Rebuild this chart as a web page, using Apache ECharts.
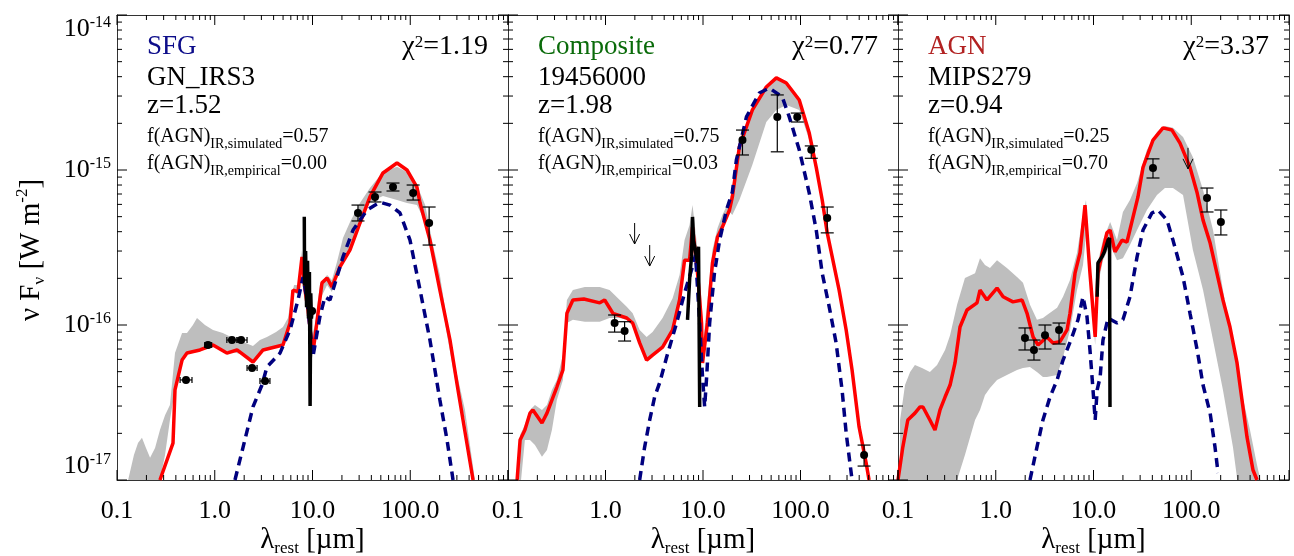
<!DOCTYPE html>
<html>
<head>
<meta charset="utf-8">
<script src="https://cdn.jsdelivr.net/npm/echarts@6/dist/echarts.min.js"></script>
<style>
  html, body { margin: 0; padding: 0; background: #ffffff; }
  #chart { width: 1294px; height: 556px; }
</style>
</head>
<body>
<div id="chart"></div>
<script>
// ---------- axis ticks and labels ----------
const xMajorTicks = [0.1, 1, 10, 100, 1000];
const xMinorTicks = [0.2, 0.3, 0.4, 0.5, 0.6, 0.7, 0.8, 0.9, 2, 3, 4, 5, 6, 7, 8, 9,
  20, 30, 40, 50, 60, 70, 80, 90, 200, 300, 400, 500, 600, 700, 800, 900];
const xTickLabels = ['0.1', '1.0', '10.0', '100.0', ''];
const yMajorTicks = [1e-17, 1e-16, 1e-15, 1e-14];
const yMinorTicks = [2e-17, 3e-17, 4e-17, 5e-17, 6e-17, 7e-17, 8e-17, 9e-17,
  2e-16, 3e-16, 4e-16, 5e-16, 6e-16, 7e-16, 8e-16, 9e-16,
  2e-15, 3e-15, 4e-15, 5e-15, 6e-15, 7e-15, 8e-15, 9e-15];
const yTickExponents = ['-17', '-16', '-15', '-14'];

// ---------- panel annotations ----------
const classNames = ['SFG', 'Composite', 'AGN'];
const classColors = ['#0d0d8a', '#0a6b0a', '#b22222'];
const sourceNames = ['GN_IRS3', '19456000', 'MIPS279'];
const redshifts = ['1.52', '1.98', '0.94'];
const fAgnSimulated = ['0.57', '0.75', '0.25'];
const fAgnEmpirical = ['0.00', '0.03', '0.70'];
const chiSquared = ['1.19', '0.77', '3.37'];

// ---------- SFG: GN_IRS3 ----------
// range of acceptable fits: [lambda (um), lower, upper]
const sfgBand = [
  [0.13, 5e-18, 1.0e-17], [0.149, 5e-18, 1.45e-17], [0.164, 5e-18, 1.73e-17], [0.18, 5e-18, 1.87e-17],
  [0.198, 5e-18, 1.61e-17], [0.218, 5e-18, 1.39e-17], [0.245, 5e-18, 1.61e-17], [0.275, 1.0e-17, 2.1e-17],
  [0.31, 1.45e-17, 2.62e-17], [0.348, 2.44e-17, 3.05e-17], [0.392, 3.81e-17, 6.59e-17], [0.463, 5.94e-17, 8.87e-17],
  [0.52, 6.59e-17, 8.87e-17], [0.598, 6.7e-17, 1.0e-16], [0.658, 6.9e-17, 1.11e-16], [0.794, 7.11e-17, 1.0e-16],
  [0.96, 7.43e-17, 9.3e-17], [1.21, 6.9e-17, 8.87e-17], [1.54, 6.7e-17, 8.24e-17], [1.95, 6.4e-17, 7.76e-17],
  [2.46, 5.77e-17, 7.33e-17], [2.9, 6.7e-17, 8.0e-17], [3.42, 7.11e-17, 8.37e-17], [4.24, 7.33e-17, 9.0e-17],
  [4.99, 7.43e-17, 9.7e-17], [5.61, 8.6e-17, 1.11e-16], [6.03, 1.08e-16, 1.45e-16], [6.47, 1.63e-16, 1.81e-16],
  [7.11, 1.56e-16, 1.81e-16], [7.81, 2.55e-16, 3.05e-16], [8.38, 1.56e-16, 2.1e-16], [9.0, 1.08e-16, 1.45e-16],
  [9.89, 6.12e-17, 8.6e-17], [10.6, 7.43e-17, 1.0e-16], [11.9, 1.45e-16, 1.81e-16], [14.1, 1.81e-16, 2.1e-16],
  [15.8, 1.63e-16, 1.95e-16], [17.8, 2.1e-16, 2.55e-16], [20.5, 2.55e-16, 3.64e-16], [24.2, 3.05e-16, 4.62e-16],
  [30.6, 4.42e-16, 6.12e-16], [38.7, 6.22e-16, 7.65e-16], [52.6, 6.8e-16, 9.7e-16], [73.2, 6.4e-16, 1.05e-15],
  [92.6, 6.12e-16, 9.7e-16], [117, 5.94e-16, 8.0e-16], [142, 4.62e-16, 5.94e-16], [171, 2.55e-16, 3.28e-16],
  [201, 1.63e-16, 2.1e-16], [243, 8.0e-17, 9.7e-17], [294, 4.1e-17, 5.13e-17], [363, 2.44e-17, 2.83e-17],
  [459, 8.6e-18, 1.0e-17], [493, 8.0e-18, 8.0e-18]
];
// best-fit total model
const sfgTotal = [
  [0.275, 1e-17], [0.374, 1.73e-17], [0.392, 3.81e-17], [0.463, 5.94e-17], [0.52, 6.59e-17], [0.706, 6.9e-17],
  [0.96, 7.43e-17], [1.33, 6.59e-17], [1.69, 6.9e-17], [2.46, 5.77e-17], [3.12, 6.9e-17], [4.99, 7.43e-17],
  [5.89, 1.03e-16], [6.31, 1.68e-16], [7.11, 1.64e-16], [7.81, 2.75e-16], [8.38, 1.68e-16], [9.0, 1.25e-16],
  [10.1, 6.59e-17], [12.5, 1.87e-16], [14.1, 2.01e-16], [15.8, 1.76e-16], [19.1, 2.37e-16], [24.2, 3.05e-16],
  [30.6, 4.55e-16], [38.7, 6.7e-16], [52.6, 9.57e-16], [73.2, 1.11e-15], [92.6, 1.0e-15], [117, 7.76e-16],
  [126, 6.12e-16], [159, 3.53e-16], [201, 1.68e-16], [255, 8.0e-17], [308, 3.81e-17], [439, 1e-17]
];
// star-forming component
const sfgHost = [
  [1.61, 1e-17], [1.95, 1.63e-17], [2.46, 2.96e-17], [3.04, 4.1e-17], [3.42, 5.36e-17], [4.65, 6.59e-17],
  [5.89, 9.29e-17], [7.11, 1.45e-16], [8.0, 2.04e-16], [8.79, 1.45e-16], [10.1, 6.22e-17], [11.9, 1.13e-16],
  [13.4, 1.52e-16], [15.1, 1.45e-16], [20.5, 2.75e-16], [26.0, 4.1e-16], [36.1, 5.52e-16], [49.1, 6.2e-16],
  [62.1, 5.94e-16], [78.5, 5.28e-16], [99.4, 3.53e-16], [126, 1.68e-16], [159, 8.0e-17], [201, 3.28e-17],
  [238, 1.81e-17], [274, 1e-17]
];
// photometry: [lambda, F, F low, F high, lambda low, lambda high]
const sfgPhot = [
  [0.508, 4.42e-17, 4.42e-17, 4.42e-17, 0.442, 0.585],
  [0.853, 7.43e-17, 7.43e-17, 7.43e-17, 0.79, 0.93],
  [1.5, 8.0e-17, 8.0e-17, 8.0e-17, 1.33, 1.69],
  [1.86, 8.0e-17, 8.0e-17, 8.0e-17, 1.69, 2.14],
  [2.41, 5.28e-17, 5.28e-17, 5.28e-17, 2.14, 2.71],
  [3.27, 4.35e-17, 4.35e-17, 4.35e-17, 2.9, 3.67],
  [9.9, 1.23e-16, 1.23e-16, 1.23e-16, 9.9, 9.9],
  [29.2, 5.28e-16, 4.69e-16, 5.94e-16, 29.2, 29.2],
  [43.6, 6.7e-16, 6.22e-16, 7.21e-16, 43.6, 43.6],
  [66.6, 7.76e-16, 7.32e-16, 8.24e-16, 66.6, 66.6],
  [107, 7.1e-16, 6.4e-16, 8.0e-16, 107, 107],
  [156, 4.55e-16, 3.28e-16, 5.77e-16, 156, 156]
];
// mid-IR spectrum
const sfgIRS = [
  [8.24, 5.0e-16], [8.3, 1.8e-16], [8.5, 3.0e-16], [8.7, 1.3e-16], [8.9, 2.6e-16], [9.1, 1.1e-16],
  [9.3, 2.2e-16], [9.45, 3.0e-17], [9.6, 1.6e-16], [9.75, 1.1e-16], [9.9, 1.23e-16]
];
const sfgLimits = [];

// ---------- Composite: 19456000 ----------
const compBand = [
  [0.124, 5.5e-18, 1.03e-17], [0.133, 8.6e-18, 1.95e-17], [0.149, 1.81e-17, 2.26e-17], [0.168, 1.81e-17, 2.83e-17],
  [0.189, 1.68e-17, 3.05e-17], [0.223, 1.41e-17, 2.83e-17], [0.251, 1.56e-17, 3.05e-17], [0.282, 2.1e-17, 3.81e-17],
  [0.317, 3.28e-17, 4.42e-17], [0.366, 4.42e-17, 6.4e-17], [0.402, 1.03e-16, 1.45e-16], [0.463, 1.08e-16, 1.68e-16],
  [0.614, 1.05e-16, 1.76e-16], [0.873, 1.05e-16, 1.76e-16], [1.1, 1.11e-16, 1.68e-16], [1.4, 1.11e-16, 1.45e-16],
  [1.65, 1.08e-16, 1.31e-16], [1.9, 1.0e-16, 1.19e-16], [2.24, 7.43e-17, 9.3e-17], [2.64, 5.94e-17, 8.37e-17],
  [3.04, 6.4e-17, 9.0e-17], [3.85, 7.21e-17, 1.11e-16], [4.88, 9.3e-17, 1.49e-16], [5.75, 1.41e-16, 2.1e-16],
  [6.47, 2.55e-16, 3.53e-16], [7.28, 2.55e-16, 4.42e-16], [7.81, 4.1e-16, 5.94e-16], [8.79, 2.1e-16, 3.05e-16],
  [9.66, 1.0e-16, 1.45e-16], [10.1, 5.69e-17, 8.0e-17], [11.1, 1.03e-16, 1.45e-16], [12.5, 2.44e-16, 3.05e-16],
  [14.1, 3.53e-16, 4.23e-16], [15.8, 4.1e-16, 5.13e-16], [18.7, 5.36e-16, 6.4e-16], [20.0, 5.13e-16, 7.43e-16],
  [23.6, 6.4e-16, 1.49e-15], [32.1, 1.08e-15, 2.51e-15], [44.6, 2.04e-15, 3.53e-15], [56.5, 2.44e-15, 3.98e-15],
  [71.5, 2.63e-15, 3.75e-15], [97.1, 2.44e-15, 2.92e-15], [123, 1.56e-15, 1.81e-15], [145, 9.7e-16, 1.08e-15],
  [167, 5.94e-16, 6.6e-16], [188, 3.75e-16, 4.1e-16], [249, 1.63e-16, 1.76e-16], [294, 8.87e-17, 9.7e-17],
  [338, 4.9e-17, 5.36e-17], [399, 2.1e-17, 2.26e-17], [471, 1.23e-17, 1.35e-17], [505, 9.6e-18, 1.03e-17]
];
const compTotal = [
  [0.124, 1e-17], [0.133, 1.81e-17], [0.149, 2.1e-17], [0.168, 2.7e-17], [0.18, 2.83e-17], [0.223, 2.33e-17],
  [0.251, 2.7e-17], [0.282, 3.28e-17], [0.317, 3.98e-17], [0.366, 5.13e-17], [0.402, 1.19e-16], [0.463, 1.45e-16],
  [0.6, 1.47e-16], [0.873, 1.39e-16], [0.98, 1.45e-16], [1.19, 1.19e-16], [1.65, 1.11e-16], [1.9, 1.03e-16],
  [2.24, 7.66e-17], [2.64, 5.94e-17], [3.04, 6.4e-17], [3.85, 7.21e-17], [4.88, 9.29e-17], [5.75, 1.45e-16],
  [6.47, 2.62e-16], [7.28, 2.62e-16], [7.81, 4.28e-16], [8.79, 2.16e-16], [9.66, 1.03e-16], [9.89, 5.69e-17],
  [11.1, 1.03e-16], [12.5, 2.51e-16], [14.1, 3.7e-16], [15.8, 4.28e-16], [18.7, 5.52e-16], [20.0, 6.7e-16],
  [23.6, 1.41e-15], [32.1, 2.44e-15], [44.6, 3.43e-15], [56.5, 3.93e-15], [71.5, 3.64e-15], [97.1, 2.83e-15],
  [123, 1.73e-15], [145, 1.04e-15], [167, 6.4e-16], [188, 3.93e-16], [249, 1.68e-16], [294, 9.29e-17],
  [338, 5.13e-17], [399, 2.2e-17], [471, 1.29e-17], [505, 1e-17]
];
const compHost = [
  [2.24, 1e-17], [2.52, 1.63e-17], [2.84, 2.44e-17], [3.19, 3.43e-17], [3.59, 4.23e-17], [4.24, 6.22e-17],
  [5.36, 1.03e-16], [6.47, 1.61e-16], [7.62, 2.26e-16], [8.38, 2.83e-16], [9.2, 1.08e-16], [9.89, 4.62e-17],
  [10.4, 2.96e-17], [10.9, 4.62e-17], [11.7, 1.03e-16], [13.1, 2.16e-16], [14.8, 3.53e-16], [17.4, 5.52e-16],
  [20.0, 7.21e-16], [22.0, 1.16e-15], [27.9, 2.2e-15], [37.8, 3.14e-15], [47.9, 3.38e-15], [65.0, 2.96e-15],
  [76.7, 2.2e-15], [97.1, 1.35e-15], [123, 7.1e-16], [145, 4.1e-16], [167, 2.16e-16], [197, 1.31e-16],
  [232, 7.66e-17], [249, 5.36e-17], [267, 3.81e-17], [294, 2.01e-17], [338, 1e-17]
];
const compPhot = [
  [1.24, 1.03e-16, 9.0e-17, 1.16e-16, 1.24, 1.24],
  [1.57, 9.14e-17, 7.88e-17, 1.05e-16, 1.57, 1.57],
  [25.4, 1.56e-15, 1.25e-15, 1.81e-15, 25.4, 25.4],
  [57.8, 2.2e-15, 1.31e-15, 3.05e-15, 57.8, 57.8],
  [92.6, 2.2e-15, 2.04e-15, 2.33e-15, 92.6, 92.6],
  [129, 1.35e-15, 1.19e-15, 1.43e-15, 129, 129],
  [188, 4.9e-16, 3.93e-16, 5.77e-16, 188, 188],
  [449, 1.45e-17, 1.23e-17, 1.68e-17, 449, 449]
];
const compIRS = [
  [6.94, 1.08e-16], [7.3, 2.0e-16], [7.62, 2.75e-16], [7.81, 4.98e-16], [8.0, 3.5e-16], [8.38, 3.53e-16],
  [8.79, 2.51e-16], [9.0, 3.2e-16], [9.2, 3.2e-16], [9.25, 2.96e-17]
];
// upper limits: [lambda, F]
const compLimits = [[1.99, 4.55e-16], [2.84, 3.28e-16]];

// ---------- AGN: MIPS279 ----------
const agnBand = [
  [0.105, 5.5e-18, 2.44e-17], [0.118, 5.5e-18, 4.1e-17], [0.133, 5.5e-18, 4.98e-17], [0.149, 5.5e-18, 5.52e-17],
  [0.176, 5.5e-18, 5.28e-17], [0.212, 5.5e-18, 4.98e-17], [0.251, 5.5e-18, 5.52e-17], [0.303, 5.5e-18, 6.9e-17],
  [0.341, 5.5e-18, 8.6e-17], [0.402, 1e-17, 1.35e-16], [0.484, 1.45e-17, 2.01e-16], [0.614, 2.44e-17, 2.16e-16],
  [0.69, 2.83e-17, 2.7e-16], [0.776, 3.53e-17, 2.44e-16], [0.873, 3.92e-17, 2.33e-16], [1.03, 4.42e-17, 2.62e-16],
  [1.3, 4.75e-17, 2.33e-16], [1.65, 5.13e-17, 2.04e-16], [1.9, 5.28e-17, 1.87e-16], [2.24, 5.36e-17, 1.35e-16],
  [2.64, 4.98e-17, 1.08e-16], [3.04, 4.62e-17, 1.11e-16], [3.34, 4.62e-17, 1.16e-16], [4.24, 4.75e-17, 1.29e-16],
  [4.88, 6.22e-17, 1.52e-16], [5.75, 9.3e-17, 1.95e-16], [6.78, 1.68e-16, 2.92e-16], [7.81, 2.44e-16, 5.13e-16],
  [8.38, 3.81e-16, 6.4e-16], [9.2, 1.81e-16, 2.62e-16], [10.4, 7.43e-17, 1.08e-16], [11.1, 1.81e-16, 2.55e-16],
  [12.5, 2.62e-16, 3.53e-16], [14.8, 3.28e-16, 4.62e-16], [17.4, 2.62e-16, 3.53e-16], [20.0, 2.7e-16, 5.36e-16],
  [23.6, 3.28e-16, 6.4e-16], [27.9, 4.1e-16, 8.24e-16], [35.2, 5.52e-16, 1.35e-15], [44.6, 6.9e-16, 1.76e-15],
  [53.8, 7.65e-16, 1.92e-15], [65.0, 7.65e-16, 1.87e-15], [82.4, 6.9e-16, 1.63e-15], [104, 3.05e-16, 1.21e-15],
  [132, 1.68e-16, 7.43e-16], [167, 8.0e-17, 4.1e-16], [211, 3.81e-17, 1.68e-16], [267, 1.63e-17, 7.43e-17],
  [315, 7.43e-18, 4.1e-17], [399, 5.5e-18, 2.1e-17], [471, 5.5e-18, 1.25e-17], [568, 5.5e-18, 7.43e-18]
];
const agnTotal = [
  [0.1, 1e-17], [0.112, 1.63e-17], [0.126, 2.44e-17], [0.149, 2.7e-17], [0.168, 2.96e-17], [0.18, 2.96e-17],
  [0.212, 2.44e-17], [0.239, 2.1e-17], [0.269, 2.83e-17], [0.303, 3.43e-17], [0.341, 4.1e-17], [0.383, 5.69e-17],
  [0.431, 9.71e-17], [0.508, 1.25e-16], [0.643, 1.39e-16], [0.69, 1.68e-16], [0.813, 1.45e-16], [1.03, 1.73e-16],
  [1.19, 1.52e-16], [1.5, 1.41e-16], [1.86, 1.45e-16], [2.09, 1.19e-16], [2.41, 8.37e-17], [2.71, 7.43e-17],
  [3.34, 8.37e-17], [3.85, 7.66e-17], [4.54, 7.8e-17], [5.36, 9.29e-17], [5.75, 1.19e-16], [6.47, 2.16e-16],
  [7.28, 2.92e-16], [8.19, 5.94e-16], [9.2, 2.16e-16], [10.4, 8.37e-17], [11.1, 2.16e-16], [12.5, 3.05e-16],
  [13.7, 3.93e-16], [14.8, 4.1e-16], [16.6, 2.96e-16], [19.6, 3.53e-16], [22.0, 3.43e-16], [25.4, 4.98e-16],
  [28.5, 6.7e-16], [32.1, 1.04e-15], [40.6, 1.56e-15], [51.4, 1.87e-15], [63.5, 1.81e-15], [76.7, 1.49e-15],
  [97.1, 1.04e-15], [115, 7.1e-16], [132, 4.75e-16], [156, 3.38e-16], [183, 2.16e-16], [211, 1.45e-16],
  [249, 9.71e-17], [294, 5.69e-17], [315, 4.1e-17], [372, 1.89e-17], [428, 1.16e-17], [471, 1e-17]
];
const agnHost = [
  [2.24, 1e-17], [2.64, 1.63e-17], [3.04, 2.44e-17], [3.59, 3.43e-17], [4.24, 4.42e-17], [4.88, 5.94e-17],
  [6.03, 8.37e-17], [6.94, 1.08e-16], [7.81, 1.52e-16], [8.58, 1.13e-16], [9.2, 6.9e-17], [9.89, 3.81e-17],
  [10.4, 2.44e-17], [10.9, 3.81e-17], [11.7, 4.62e-17], [12.5, 8.0e-17], [14.1, 1.11e-16], [17.4, 1.03e-16],
  [20.0, 1.08e-16], [23.6, 1.52e-16], [27.9, 2.75e-16], [32.1, 4.1e-16], [39.6, 5.28e-16], [45.7, 5.52e-16],
  [56.5, 4.75e-16], [65.0, 3.53e-16], [82.4, 2.04e-16], [97.1, 1.19e-16], [115, 6.9e-17], [132, 4.1e-17],
  [156, 2.7e-17], [175, 1.63e-17], [188, 1.11e-17]
];
const agnPhot = [
  [1.99, 8.24e-17, 6.9e-17, 9.57e-17, 1.99, 1.99],
  [2.46, 6.9e-17, 5.94e-17, 8.0e-17, 2.46, 2.46],
  [3.19, 8.6e-17, 7.0e-17, 1.0e-16, 3.19, 3.19],
  [4.44, 9.3e-17, 7.54e-17, 1.03e-16, 4.44, 4.44],
  [40.6, 1.03e-15, 8.88e-16, 1.18e-15, 40.6, 40.6],
  [145, 6.6e-16, 5.36e-16, 7.65e-16, 145, 145],
  [201, 4.62e-16, 3.81e-16, 5.52e-16, 201, 201]
];
const agnIRS = [
  [10.9, 1.52e-16], [11.1, 2.51e-16], [12.2, 2.75e-16], [12.9, 2.96e-16], [14.1, 3.53e-16],
  [14.6, 3.64e-16], [14.75, 2.96e-17]
];
const agnLimits = [[92.6, 1.39e-15]];

// ---------- layout ----------
const SERIF = '"Liberation Serif", "DejaVu Serif", "Times New Roman", serif';
const gridTop = 15, gridHeight = 465;
const gridLefts = [117, 508, 898];
const gridWidths = [391, 390, 391];

const panels = [
  { band: sfgBand, total: sfgTotal, host: sfgHost, phot: sfgPhot, irs: sfgIRS, limits: sfgLimits },
  { band: compBand, total: compTotal, host: compHost, phot: compPhot, irs: compIRS, limits: compLimits },
  { band: agnBand, total: agnTotal, host: agnHost, phot: agnPhot, irs: agnIRS, limits: agnLimits }
];

const BAND_COLOR = '#bebebe';
const TOTAL_COLOR = '#ff0000';
const HOST_COLOR = '#00007f';

function line(x1, y1, x2, y2, w) {
  return { type: 'line', shape: { x1: x1, y1: y1, x2: x2, y2: y2 }, style: { stroke: '#000', lineWidth: w || 1 } };
}

const grids = [], xAxes = [], yAxes = [], series = [], graphics = [];

panels.forEach(function (p, g) {
  grids.push({ left: gridLefts[g], top: gridTop, width: gridWidths[g], height: gridHeight });

  const frame = { show: true, lineStyle: { color: '#333', width: 1 } };
  xAxes.push({
    gridIndex: g, type: 'log', logBase: 10, min: 0.1, max: 1000, position: 'bottom',
    axisLine: frame, axisTick: { show: false }, splitLine: { show: false },
    axisLabel: {
      margin: 18, color: '#000', fontFamily: SERIF, fontSize: 26,
      formatter: function (v) { return xTickLabels[Math.round(Math.log10(v)) + 1] || ''; }
    }
  });
  xAxes.push({
    gridIndex: g, type: 'log', logBase: 10, min: 0.1, max: 1000, position: 'top',
    axisLine: frame, axisTick: { show: false }, splitLine: { show: false }, axisLabel: { show: false }
  });
  yAxes.push({
    gridIndex: g, type: 'log', logBase: 10, min: 1e-17, max: 1e-14, position: 'left',
    axisLine: frame, axisTick: { show: false }, splitLine: { show: false },
    axisLabel: {
      show: g === 0, margin: 6,
      verticalAlignMinLabel: 'bottom', verticalAlignMaxLabel: 'top',
      formatter: function (v) {
        return '{b|10}{e|' + yTickExponents[Math.round(Math.log10(v)) + 17] + '}';
      },
      rich: {
        b: { fontFamily: SERIF, fontSize: 26, color: '#000', lineHeight: 28 },
        e: { fontFamily: SERIF, fontSize: 16, color: '#000', verticalAlign: 'top', lineHeight: 16 }
      }
    }
  });
  yAxes.push({
    gridIndex: g, type: 'log', logBase: 10, min: 1e-17, max: 1e-14, position: 'right',
    axisLine: frame, axisTick: { show: false }, splitLine: { show: false }, axisLabel: { show: false }
  });

  const xi = 2 * g, yi = 2 * g;

  // shaded range of fits
  series.push({
    type: 'custom', xAxisIndex: xi, yAxisIndex: yi, clip: true, z: 1, silent: true,
    data: p.band, encode: { x: 0, y: [1, 2] },
    renderItem: function (params, api) {
      if (params.dataIndex !== 0) return null;
      const upper = p.band.map(function (b) { return api.coord([b[0], b[2]]); });
      const lower = p.band.map(function (b) { return api.coord([b[0], b[1]]); }).reverse();
      return { type: 'polygon', shape: { points: upper.concat(lower) }, style: { fill: BAND_COLOR } };
    }
  });
  // total model
  series.push({
    type: 'line', xAxisIndex: xi, yAxisIndex: yi, z: 2, silent: true, showSymbol: false, clip: true,
    data: p.total, lineStyle: { color: TOTAL_COLOR, width: 3.5 }
  });
  // star-forming component
  series.push({
    type: 'line', xAxisIndex: xi, yAxisIndex: yi, z: 3, silent: true, showSymbol: false, clip: true,
    data: p.host, lineStyle: { color: HOST_COLOR, width: 3.5, type: [9, 6] }
  });
  // mid-IR spectrum
  series.push({
    type: 'line', xAxisIndex: xi, yAxisIndex: yi, z: 4, silent: true, showSymbol: false, clip: true,
    data: p.irs, lineStyle: { color: '#000', width: 3.5 }
  });
  // photometry with error bars
  series.push({
    type: 'custom', xAxisIndex: xi, yAxisIndex: yi, z: 5, silent: true, clip: false,
    data: p.phot, encode: { x: 0, y: 1 },
    renderItem: function (params, api) {
      const lam = api.value(0), f = api.value(1), flo = api.value(2), fhi = api.value(3),
        llo = api.value(4), lhi = api.value(5);
      const c = api.coord([lam, f]);
      const kids = [];
      if (fhi !== flo) {
        const a = api.coord([lam, fhi]), b = api.coord([lam, flo]);
        kids.push(line(c[0], a[1], c[0], b[1], 1.2));
        kids.push(line(c[0] - 6.5, a[1], c[0] + 6.5, a[1], 1.2));
        kids.push(line(c[0] - 6.5, b[1], c[0] + 6.5, b[1], 1.2));
      }
      if (lhi !== llo) {
        const a = api.coord([llo, f]), b = api.coord([lhi, f]);
        kids.push(line(a[0], c[1], b[0], c[1], 1.2));
        kids.push(line(a[0], c[1] - 3, a[0], c[1] + 3, 1.2));
        kids.push(line(b[0], c[1] - 3, b[0], c[1] + 3, 1.2));
      }
      kids.push({ type: 'circle', shape: { cx: c[0], cy: c[1], r: 4 }, style: { fill: '#000' } });
      return { type: 'group', children: kids };
    }
  });
  // upper limits
  series.push({
    type: 'custom', xAxisIndex: xi, yAxisIndex: yi, z: 5, silent: true, clip: false,
    data: p.limits, encode: { x: 0, y: 1 },
    renderItem: function (params, api) {
      const c = api.coord([api.value(0), api.value(1)]);
      const tip = c[1] + 21;
      return {
        type: 'group', children: [
          line(c[0], c[1], c[0], tip),
          line(c[0] - 5, tip - 10, c[0], tip),
          line(c[0] + 5, tip - 10, c[0], tip)
        ]
      };
    }
  });
  // frame ticks on the wavelength axes (bottom and top)
  const xTickData = xMajorTicks.map(function (v) { return [v, 1e-16, 1]; })
    .concat(xMinorTicks.map(function (v) { return [v, 1e-16, 0]; }));
  series.push({
    type: 'custom', xAxisIndex: xi, yAxisIndex: yi, z: 6, silent: true, clip: false,
    data: xTickData, encode: { x: 0, y: 1 },
    renderItem: function (params, api) {
      const cs = params.coordSys;
      const x = api.coord([api.value(0), api.value(1)])[0];
      const len = api.value(2) ? 10 : 5;
      const yb = cs.y + cs.height, yt = cs.y;
      return { type: 'group', children: [line(x, yb, x, yb - len), line(x, yt, x, yt + len)] };
    }
  });
  // frame ticks on the flux axes (left and right)
  const yTickData = yMajorTicks.map(function (v) { return [1, v, 1]; })
    .concat(yMinorTicks.map(function (v) { return [1, v, 0]; }));
  series.push({
    type: 'custom', xAxisIndex: xi, yAxisIndex: yi, z: 6, silent: true, clip: false,
    data: yTickData, encode: { x: 0, y: 1 },
    renderItem: function (params, api) {
      const cs = params.coordSys;
      const y = api.coord([api.value(0), api.value(1)])[1];
      const len = api.value(2) ? 10 : 5;
      const xl = cs.x, xr = cs.x + cs.width;
      return { type: 'group', children: [line(xl, y, xl + len, y), line(xr, y, xr - len, y)] };
    }
  });

  // panel annotations
  const left = gridLefts[g] + 30;
  const right = gridLefts[g] + gridWidths[g] - 20;
  graphics.push({
    type: 'text', x: left, y: 47, silent: true,
    style: { text: classNames[g], fill: classColors[g], fontFamily: SERIF, fontSize: 27, verticalAlign: 'middle' }
  });
  graphics.push({
    type: 'text', x: left, y: 78, silent: true,
    style: { text: sourceNames[g], fill: '#000', fontFamily: SERIF, fontSize: 27, verticalAlign: 'middle' }
  });
  graphics.push({
    type: 'text', x: left, y: 106, silent: true,
    style: { text: 'z=' + redshifts[g], fill: '#000', fontFamily: SERIF, fontSize: 27, verticalAlign: 'middle' }
  });
  const fRich = {
    m: { fontFamily: SERIF, fontSize: 20, fill: '#000', lineHeight: 28 },
    s: { fontFamily: SERIF, fontSize: 14, fill: '#000', verticalAlign: 'bottom' }
  };
  graphics.push({
    type: 'text', x: left, y: 137, silent: true,
    style: { text: '{m|f(AGN)}{s|IR,simulated}{m|=' + fAgnSimulated[g] + '}', rich: fRich, verticalAlign: 'middle' }
  });
  graphics.push({
    type: 'text', x: left, y: 164, silent: true,
    style: { text: '{m|f(AGN)}{s|IR,empirical}{m|=' + fAgnEmpirical[g] + '}', rich: fRich, verticalAlign: 'middle' }
  });
  graphics.push({
    type: 'text', x: right, y: 47, silent: true,
    style: {
      text: '{m|\u03c7}{p|2}{m|=' + chiSquared[g] + '}', align: 'right', verticalAlign: 'middle',
      rich: {
        m: { fontFamily: SERIF, fontSize: 28, fill: '#000', lineHeight: 30 },
        p: { fontFamily: SERIF, fontSize: 17, fill: '#000', verticalAlign: 'top', padding: [2, 0, 0, 0] }
      }
    }
  });
  // wavelength axis title
  graphics.push({
    type: 'text', x: gridLefts[g] + gridWidths[g] / 2, y: 540, silent: true,
    style: {
      text: '{m|\u03bb}{s|rest}{m| [\u00b5m]}', align: 'center', verticalAlign: 'middle',
      rich: {
        m: { fontFamily: SERIF, fontSize: 29, fill: '#000', lineHeight: 34 },
        s: { fontFamily: SERIF, fontSize: 17, fill: '#000', verticalAlign: 'bottom' }
      }
    }
  });
});

// flux axis title
graphics.push({
  type: 'text', x: 31, y: 250, rotation: Math.PI / 2, silent: true,
  style: {
    text: '{m|\u03bd F}{s|\u03bd}{m| [W m}{p|-2}{m|]}', align: 'center', verticalAlign: 'middle',
    rich: {
      m: { fontFamily: SERIF, fontSize: 29, fill: '#000', lineHeight: 34 },
      s: { fontFamily: SERIF, fontSize: 17, fill: '#000', verticalAlign: 'bottom' },
      p: { fontFamily: SERIF, fontSize: 17, fill: '#000', verticalAlign: 'top' }
    }
  }
});

const chart = echarts.init(document.getElementById('chart'), null, { renderer: 'canvas' });
chart.setOption({
  animation: false,
  backgroundColor: '#ffffff',
  grid: grids,
  xAxis: xAxes,
  yAxis: yAxes,
  series: series,
  graphic: graphics
});
</script>
</body>
</html>
